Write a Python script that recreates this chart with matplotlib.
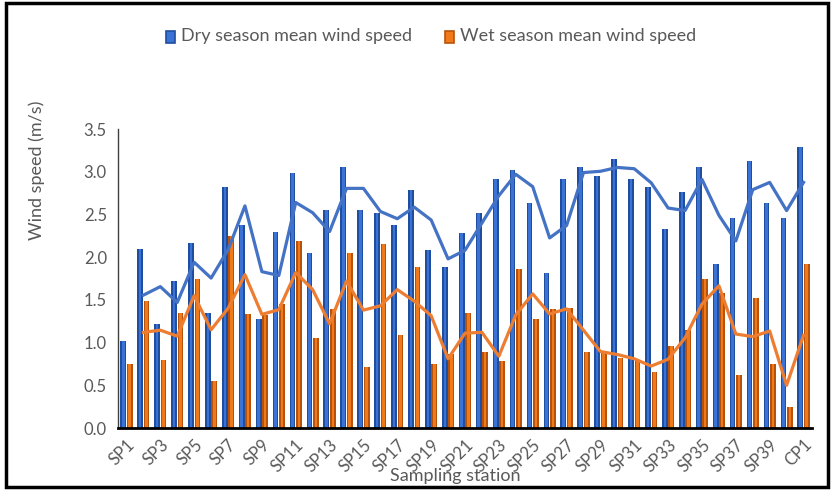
import matplotlib
matplotlib.use("Agg")
import matplotlib.pyplot as plt
import numpy as np
from matplotlib.patches import Rectangle

stations = [f"SP{i}" for i in range(1, 41)] + ["CP1"]
dry = [1.02, 2.09, 1.22, 1.72, 2.16, 1.35, 2.82, 2.38, 1.28, 2.29,
       2.99, 2.05, 2.55, 3.06, 2.55, 2.52, 2.38, 2.79, 2.08, 1.88,
       2.28, 2.52, 2.92, 3.02, 2.63, 1.82, 2.92, 3.06, 2.95, 3.15,
       2.92, 2.82, 2.33, 2.76, 3.06, 1.92, 2.46, 3.12, 2.63, 2.46,
       3.29]
wet = [0.75, 1.49, 0.80, 1.35, 1.75, 0.55, 2.25, 1.34, 1.32, 1.45,
       2.19, 1.05, 1.39, 2.05, 0.71, 2.15, 1.09, 1.88, 0.75, 0.87,
       1.35, 0.89, 0.79, 1.86, 1.28, 1.39, 1.40, 0.89, 0.90, 0.82,
       0.80, 0.65, 0.96, 1.15, 1.75, 1.58, 0.62, 1.52, 0.75, 0.25,
       1.92]
yticks = [0.0, 0.5, 1.0, 1.5, 2.0, 2.5, 3.0, 3.5]

plt.rcParams['font.family'] = ['Lato', 'DejaVu Sans']
fig = plt.figure(figsize=(8.32, 4.90), dpi=100)
ax = fig.add_axes([118/832, 1-428/490, (812-118)/832, (428-129)/490])

x = np.arange(len(stations))
w = 0.34
off = 0.19
blue_dark, blue_light = '#1F4E9E', '#3B72D6'
orange_dark, orange_light = '#B8520A', '#F07A1A'

ax.bar(x - off, dry, width=w, color=blue_dark, edgecolor='none', zorder=2)
ax.bar(x - off, dry, width=w*0.45, color=blue_light, edgecolor='none', zorder=2.1)
ax.bar(x + off, wet, width=w, color=orange_dark, edgecolor='none', zorder=2)
ax.bar(x + off, wet, width=w*0.45, color=orange_light, edgecolor='none', zorder=2.1)

dry_a = np.array(dry); wet_a = np.array(wet)
dry_ma = (dry_a[1:] + dry_a[:-1]) / 2
wet_ma = (wet_a[1:] + wet_a[:-1]) / 2
ax.plot(x[1:], dry_ma, color='#4472C4', lw=2.3, zorder=3, solid_joinstyle='round')
ax.plot(x[1:], wet_ma, color='#ED7D31', lw=2.3, zorder=3, solid_joinstyle='round')

ax.set_xlim(-0.5, len(stations) - 0.5)
ax.set_ylim(0, 3.5)
ax.set_yticks(yticks)
ax.set_yticklabels([f"{v:.1f}" for v in yticks], fontsize=12, color='#595959')
ax.set_xticks(x[::2])
ax.set_xticklabels(stations[::2], rotation=45, ha='right', rotation_mode='anchor',
                   fontsize=12, color='#595959')
ax.tick_params(axis='both', length=0, pad=8)
ax.tick_params(axis='x', pad=6)
for s in ['top', 'right']:
    ax.spines[s].set_visible(False)
ax.spines['left'].set_color('#404040')
ax.spines['left'].set_linewidth(1.0)
ax.spines['bottom'].set_color('black')
ax.spines['bottom'].set_linewidth(2.0)

fig.text(37/832, 1-170/490, "Wind speed (m/s)", rotation=90, ha='center', va='center',
         fontsize=13, color='#595959')
fig.text(455/832, 1-476/490, "Sampling station", ha='center', va='center',
         fontsize=13, color='#595959')

# legend
fig.patches.append(Rectangle((166/832, 1-43/490), 9/832, 12/490, transform=fig.transFigure,
                             facecolor=blue_light, edgecolor=blue_dark, lw=1.2))
fig.text(181/832, 1-36/490, "Dry season mean wind speed", ha='left', va='center',
         fontsize=13, color='#595959')
fig.patches.append(Rectangle((445/832, 1-43/490), 9/832, 12/490, transform=fig.transFigure,
                             facecolor=orange_light, edgecolor=orange_dark, lw=1.2))
fig.text(460/832, 1-36/490, "Wet season mean wind speed", ha='left', va='center',
         fontsize=13, color='#595959')

# outer border
fig.patches.append(Rectangle((6/832, 3/490), 822/832, 484/490, transform=fig.transFigure,
                             facecolor='none', edgecolor='black', lw=2.5))

fig.savefig("out.png", dpi=100)
